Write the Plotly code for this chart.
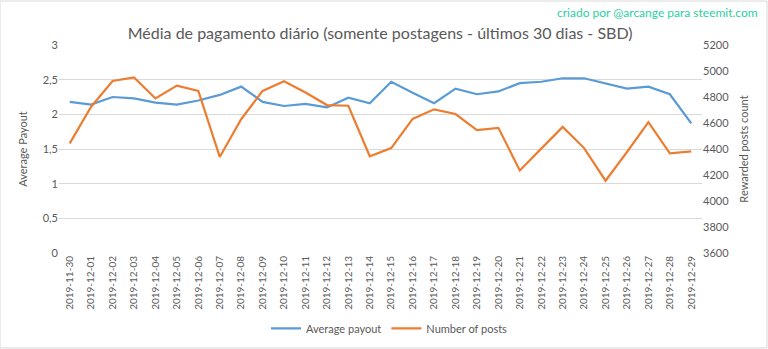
import plotly.graph_objects as go

dates = [
    "2019-11-30", "2019-12-01", "2019-12-02", "2019-12-03", "2019-12-04", "2019-12-05",
    "2019-12-06", "2019-12-07", "2019-12-08", "2019-12-09", "2019-12-10", "2019-12-11",
    "2019-12-12", "2019-12-13", "2019-12-14", "2019-12-15", "2019-12-16", "2019-12-17",
    "2019-12-18", "2019-12-19", "2019-12-20", "2019-12-21", "2019-12-22", "2019-12-23",
    "2019-12-24", "2019-12-25", "2019-12-26", "2019-12-27", "2019-12-28", "2019-12-29",
]

avg_payout = [
    2.18, 2.14, 2.25, 2.23, 2.17, 2.14, 2.20, 2.28, 2.40, 2.18, 2.12, 2.15,
    2.10, 2.24, 2.16, 2.47, 2.31, 2.16, 2.37, 2.29, 2.33, 2.45, 2.47, 2.52,
    2.52, 2.44, 2.37, 2.40, 2.29, 1.87,
]

num_posts = [
    4443, 4725, 4923, 4951, 4789, 4888, 4847, 4339, 4629, 4847, 4921, 4834,
    4738, 4733, 4344, 4407, 4631, 4705, 4669, 4545, 4563, 4235, 4403, 4570,
    4407, 4156, 4377, 4606, 4367, 4382,
]

BLUE = "#5B9BD5"
ORANGE = "#ED7D31"
GREY = "#595959"
FONT = "Lato"

fig = go.Figure()
fig.add_trace(go.Scatter(
    x=dates, y=avg_payout, mode="lines", name="Average payout",
    line=dict(color=BLUE, width=2.2), yaxis="y",
))
fig.add_trace(go.Scatter(
    x=dates, y=num_posts, mode="lines", name="Number of posts",
    line=dict(color=ORANGE, width=2.2), yaxis="y2",
))

fig.update_layout(
    width=768, height=349,
    margin=dict(l=59, r=66, t=45, b=96, autoexpand=False),
    paper_bgcolor="white", plot_bgcolor="white",
    separators=",.",
    font=dict(family=FONT, color=GREY, size=11),
    title=dict(
        text="Média de pagamento diário (somente postagens - últimos 30 dias - SBD)",
        x=0.495, xanchor="center", y=0.905, yanchor="middle",
        font=dict(family=FONT, size=16, color=GREY),
        automargin=False,
    ),
    xaxis=dict(
        type="category", range=[-0.5, len(dates) - 0.5],
        tickangle=-90, tickfont=dict(size=10, color=GREY),
        showgrid=False, showline=False, ticks="", zeroline=False,
        automargin=False,
    ),
    yaxis=dict(
        range=[0, 3], dtick=0.5, tick0=0,
        showgrid=True, gridcolor="#D9D9D9", gridwidth=1,
        zeroline=False, showline=False, ticks="",
        tickfont=dict(size=11, color=GREY),
        title=dict(text="Average Payout", font=dict(size=11, color=GREY), standoff=12),
        automargin=False,
    ),
    yaxis2=dict(
        range=[3600, 5200], dtick=200, tick0=3600,
        overlaying="y", side="right",
        showgrid=False, zeroline=False, showline=False, ticks="",
        tickfont=dict(size=11, color=GREY),
        title=dict(text="Rewarded posts count", font=dict(size=11, color=GREY), standoff=12),
        automargin=False,
    ),
    legend=dict(
        orientation="h", x=0.514, xanchor="center", y=-0.362, yanchor="middle",
        font=dict(size=11, color=GREY), itemwidth=30, tracegroupgap=0,
        bgcolor="rgba(0,0,0,0)",
    ),
    showlegend=True,
)

fig.add_annotation(
    text="criado por @arcange para steemit.com",
    xref="paper", yref="paper", x=1.09, y=1.157, xanchor="right", yanchor="middle",
    showarrow=False, font=dict(family=FONT, size=12, color="#2CCFA2"),
)

# thin frame around the whole chart
fig.add_shape(
    type="rect", xref="paper", yref="paper",
    x0=-59 / 643, x1=1 + 65 / 643, y0=-95 / 208, y1=1 + 44 / 208,
    line=dict(color="#D9D9D9", width=1), fillcolor="rgba(0,0,0,0)", layer="below",
)

fig.write_html("out.html")
